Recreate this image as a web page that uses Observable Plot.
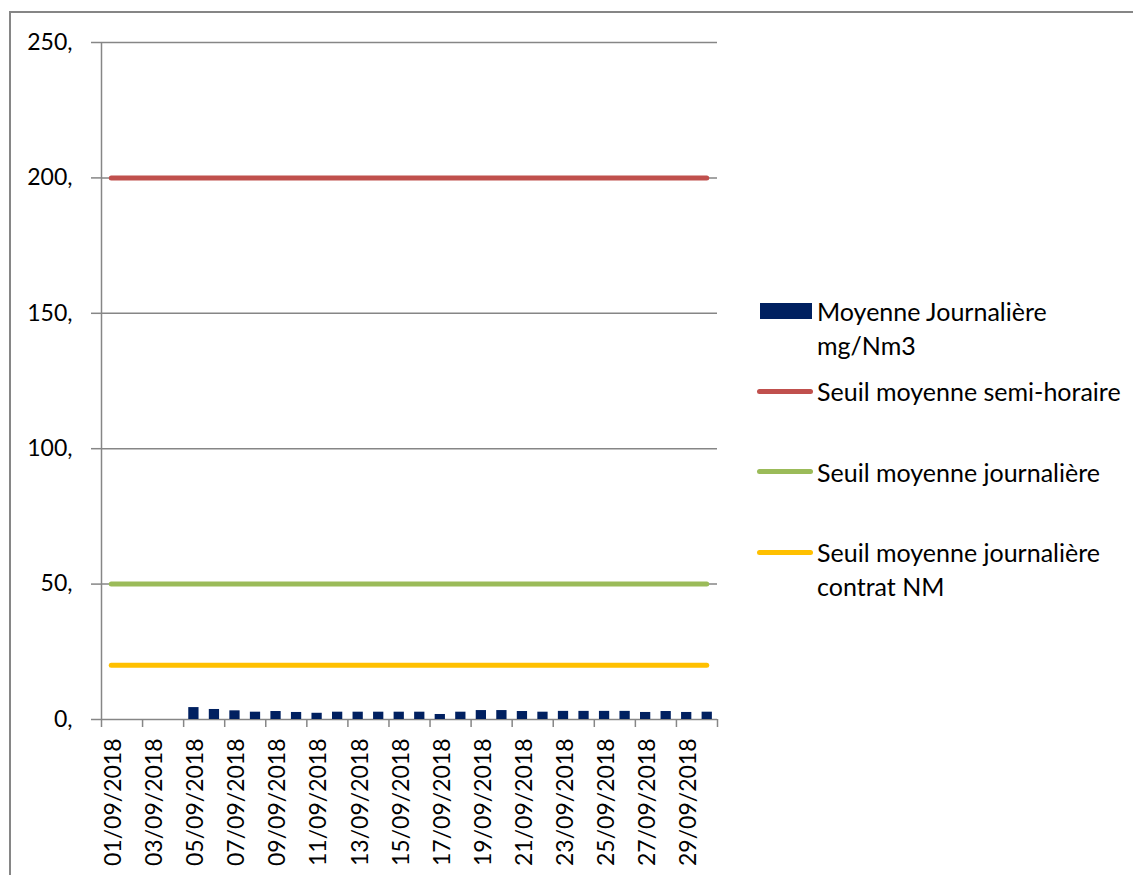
<!DOCTYPE html>
<html><head><meta charset="utf-8">
<script src="https://cdn.jsdelivr.net/npm/d3@7"></script>
<script src="https://cdn.jsdelivr.net/npm/@observablehq/plot@0.6"></script>
<style>
body{margin:0;background:#fff;}
#wrap{position:relative;width:1133px;height:875px;overflow:hidden;font-family:Lato,sans-serif;background:#fff;}
#border{position:absolute;left:9px;top:11px;width:1300px;height:1000px;border-left:2px solid #868686;border-top:2px solid #868686;}
#chart{position:absolute;left:0;top:0;}
.leg{position:absolute;left:817px;font-size:25px;line-height:34px;color:#000;white-space:nowrap;}
.sw{position:absolute;}
</style>
</head><body>
<div id="wrap"><div id="border"></div><div id="chart"></div><div id="legend"></div></div>
<script>
const dates = ["01/09/2018","02/09/2018","03/09/2018","04/09/2018","05/09/2018","06/09/2018","07/09/2018","08/09/2018","09/09/2018","10/09/2018",
"11/09/2018","12/09/2018","13/09/2018","14/09/2018","15/09/2018","16/09/2018","17/09/2018","18/09/2018","19/09/2018","20/09/2018",
"21/09/2018","22/09/2018","23/09/2018","24/09/2018","25/09/2018","26/09/2018","27/09/2018","28/09/2018","29/09/2018","30/09/2018"];
const moyenneJournaliere = [null,null,null,null,4.4,3.7,3.2,2.7,2.95,2.6,2.3,2.7,2.7,2.7,2.7,2.7,1.85,2.7,3.3,3.3,2.95,2.7,3.0,3.0,3.0,3.0,2.6,2.95,2.6,2.7];
const seuilSemiHoraire = 200;
const seuilJournaliere = 50;
const seuilContratNM = 20;
const yTicks = [0,50,100,150,200,250];
const seriesNames = ["Moyenne Journalière<br>mg/Nm3","Seuil moyenne semi-horaire","Seuil moyenne journalière","Seuil moyenne journalière<br>contrat NM"];
const seriesColors = ["#002060","#C0504D","#9BBB59","#FFC000"];

const days = dates.map((d,i)=>i+1);
const table = days.map((day,i)=>({day, label:dates[i], value:moyenneJournaliere[i]})).filter(d=>d.value!=null);
const first = days[0], last = days[days.length-1];
const xDomain = [first-0.5, last+0.5];
const bounds = days.filter(d=>d%2===1).map(d=>d-0.5).concat([last+0.5]);
const labelDays = days.filter(d=>d%2===1);

const thresholdRule = (v,color)=>Plot.ruleY([v],{x1:()=>first,x2:()=>last,stroke:color,strokeWidth:5,strokeLinecap:"round"});

const chart = Plot.plot({
  width:1133, height:875,
  marginLeft:101, marginRight:416, marginTop:42, marginBottom:156,
  x:{type:"linear", domain:xDomain},
  y:{domain:[0,250]},
  style:{fontFamily:"Lato, sans-serif", color:"#000", background:"transparent", overflow:"visible"},
  marks:[
    Plot.gridY({ticks:yTicks, stroke:"#868686", strokeOpacity:1, strokeWidth:1.5}),
    Plot.ruleX([xDomain[0]],{stroke:"#868686", strokeWidth:1.5}),
    Plot.axisY({ticks:yTicks, tickSize:10, tickPadding:19, tickFormat:d=>d+",", stroke:"#868686", strokeWidth:1.5, fontSize:23, label:null}),
    Plot.axisX({ticks:bounds, tickSize:8, tickFormat:()=>"", stroke:"#868686", strokeWidth:1.5, label:null}),
    Plot.axisX({ticks:labelDays, tickSize:0, tickPadding:19, tickRotate:-90, dx:2, tickFormat:d=>dates[d-1], fontSize:23, label:null}),
    Plot.rectY(table,{x1:d=>d.day-0.25, x2:d=>d.day+0.25, y:"value", fill:seriesColors[0]}),
    thresholdRule(seuilSemiHoraire, seriesColors[1]),
    thresholdRule(seuilJournaliere, seriesColors[2]),
    thresholdRule(seuilContratNM, seriesColors[3])
  ]
});
document.getElementById("chart").appendChild(chart);

// legend
const legendCenters = [311, 391, 471.5, 552];
const leg = document.getElementById("legend");
seriesNames.forEach((name,i)=>{
  const cy = legendCenters[i];
  const sw = document.createElement("div");
  sw.className = "sw";
  if(i===0){
    Object.assign(sw.style,{left:"760px",top:(cy-8)+"px",width:"52px",height:"16px",background:seriesColors[i]});
  } else {
    Object.assign(sw.style,{left:"757px",top:(cy-2.5)+"px",width:"56px",height:"5px",borderRadius:"3px",background:seriesColors[i]});
  }
  leg.appendChild(sw);
  const t = document.createElement("div");
  t.className = "leg";
  t.style.top = (cy-17)+"px";
  t.innerHTML = name;
  leg.appendChild(t);
});
</script>
</body></html>
